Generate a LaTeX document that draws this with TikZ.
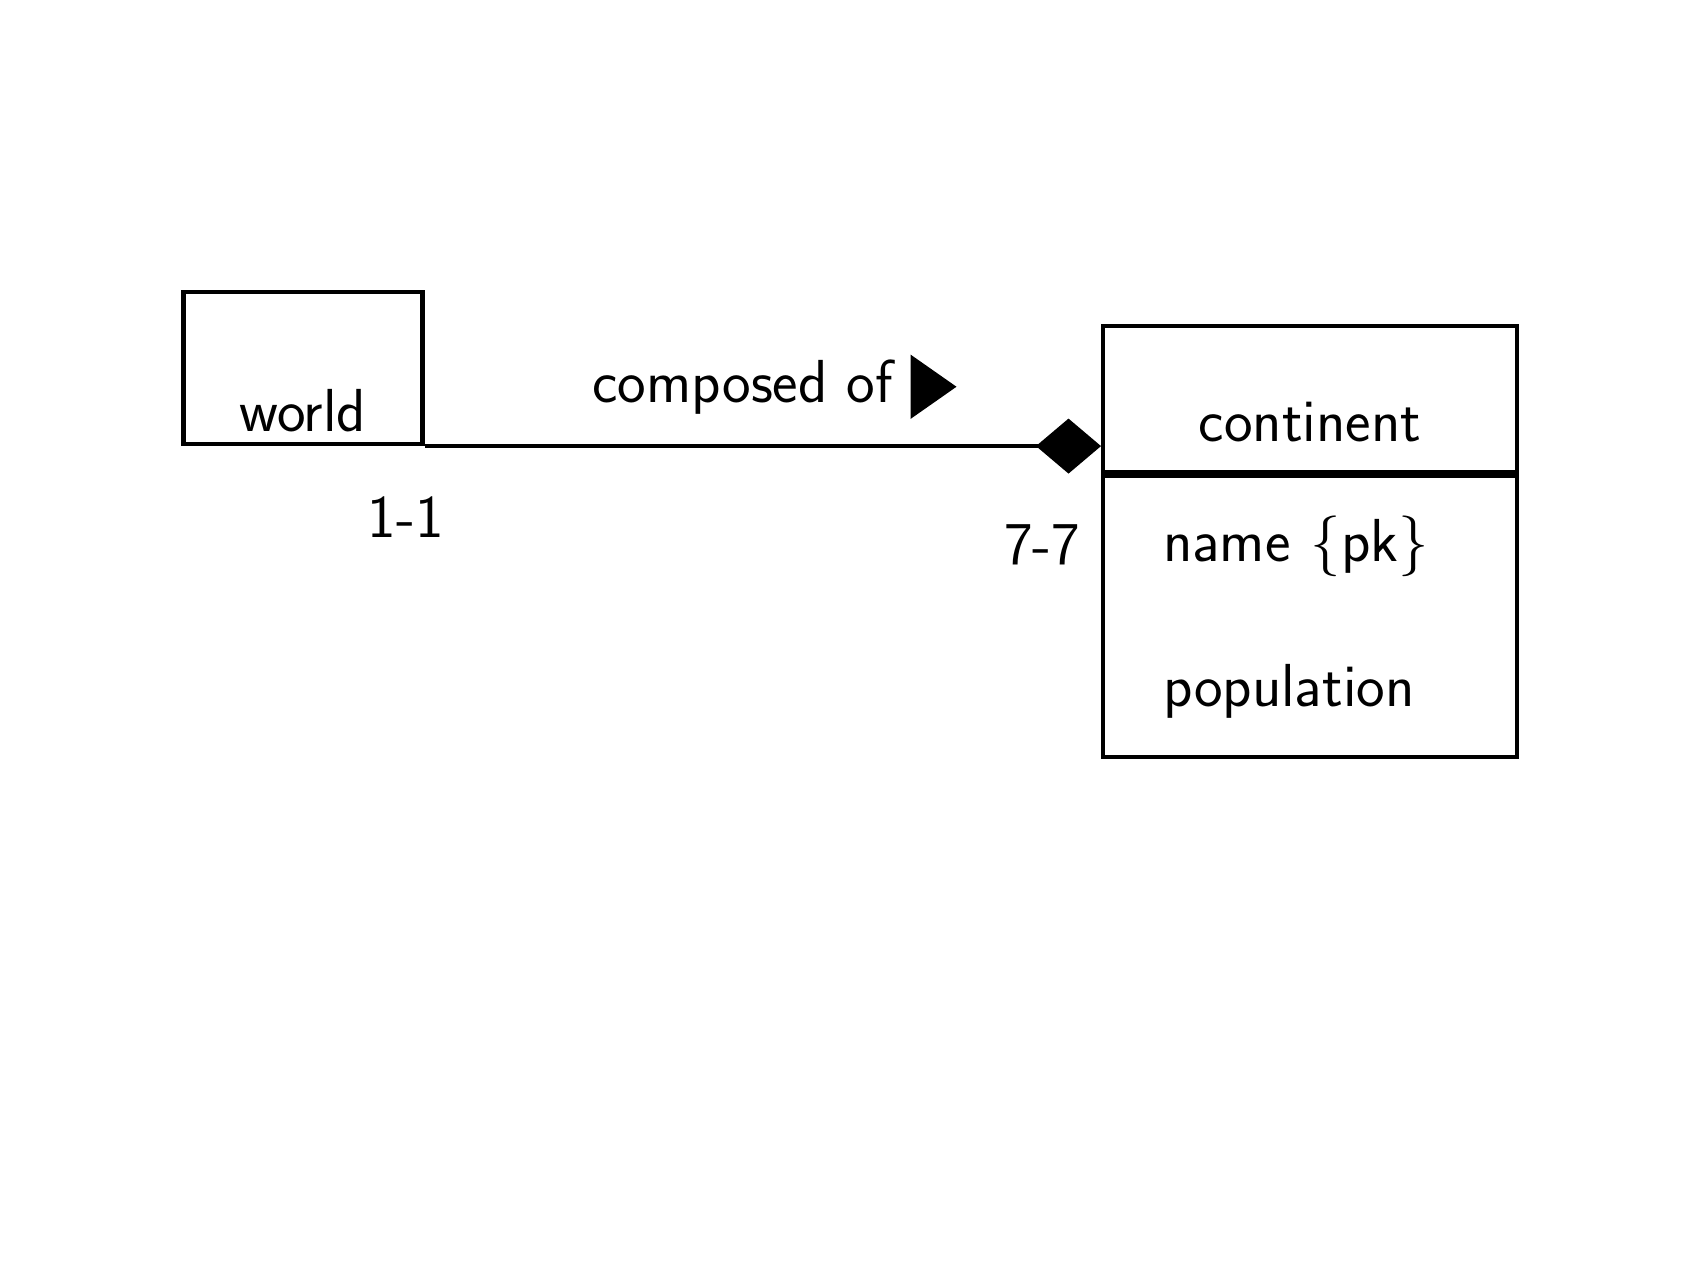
\documentclass[tikz,border=0pt]{standalone}
\usetikzlibrary{positioning}
\usetikzlibrary{arrows.meta}
\usetikzlibrary{shapes.geometric}
\tikzset{classbox/.style = {draw, rectangle, inner sep = 0, line width = 1.2pt, font = \sffamily\LARGE}}
\tikzset{handtext/.style = {font = \sffamily\LARGE, inner sep = 0}}
\tikzset{compose/.style = {-{Diamond[length=0.65cm, width=0.55cm]}, line width = 1.2pt}}

\begin{document}
\begin{tikzpicture}
  \useasboundingbox (0,0) rectangle (17.06,12.79);
  \fill[white] (0,0) rectangle (17.06,12.79);
  % classes
  \node[classbox, minimum width=2.39cm, minimum height=1.52cm,
        text height=1.28cm, text depth=0pt] (world) at (3.03,9.11) {world};
  \node[classbox, minimum width=4.14cm, minimum height=1.46cm,
        text height=0.84cm, text depth=0pt, anchor=north west] (cont) at (11.01,9.55) {continent};
  \node[classbox, minimum width=4.14cm, minimum height=2.81cm, inner xsep=0.6cm,
        text width=2.94cm, align=left, below=0pt of cont] (attrs)
        {name \{pk\}\\[0.68cm] population};

  % association
  \draw[compose] (world.south east) -- (world.south east -| cont.west)
    node[handtext, above=0.3cm, pos=0.47] (rolename) {composed of};
  \node[fill, isosceles triangle, isosceles triangle apex angle=70, inner sep=0,
        minimum height=0.46cm, minimum width=0.6cm, right=0.15cm of rolename] (readdir) {};

  % multiplicities
  \node[handtext, below left=0.5cm and -0.2cm of world.south east] (mworld) {1-1};
  \node[handtext, below left=0.5cm and 0.2cm of cont.south west] (mcont) {7-7};
\end{tikzpicture}
\end{document}
